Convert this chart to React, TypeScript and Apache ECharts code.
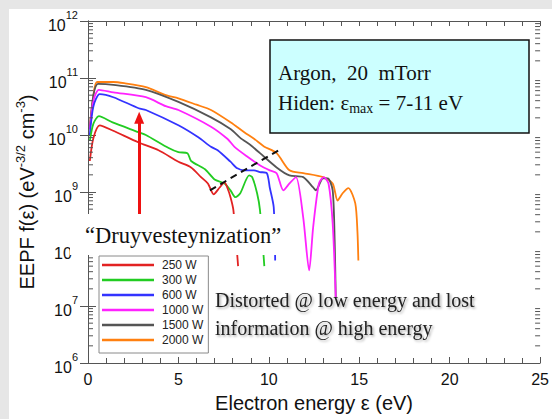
import React, { useEffect, useRef } from 'react';
import * as echarts from 'echarts';

// ---------- data (electron energy eV, EEPF value) ----------
const SERIES_NAMES = ['250 W', '300 W', '600 W', '1000 W', '1500 W', '2000 W'];
const SERIES_COLORS = ['#e22222', '#22cc22', '#3333ff', '#ff22ff', '#555555', '#ff8010'];

const P250: [number, number][] = [
  [0.1, 3.5e9], [0.3, 8.9e9], [0.65, 1.48e10], [1.36, 1.2e10], [2.8, 7.4e9], [3.9, 5.4e9],
  [5.0, 3.4e9], [5.7, 2.7e9], [6.25, 1.82e9], [6.63, 1.41e9], [6.95, 9.1e8], [7.28, 1.2e9],
  [7.55, 1.48e9], [7.7, 1.2e9], [7.88, 8.1e8], [8.04, 4.8e8], [8.3, 5.0e7],
];
const P300: [number, number][] = [
  [0.1, 7.9e9], [0.3, 1.58e10], [0.6, 2.14e10], [1.36, 1.66e10], [2.8, 1.12e10], [3.2, 1.0e10],
  [4.46, 5.9e9], [5.0, 5.0e9], [5.5, 4.8e9], [5.7, 3.5e9], [6.47, 2.5e9], [7.0, 1.66e9],
  [7.55, 1.41e9], [7.88, 1.07e9], [8.15, 8.1e8], [8.42, 9.5e8], [8.91, 1.95e9], [9.08, 1.82e9],
  [9.35, 9.5e8], [9.51, 4.8e8], [9.75, 5.0e7],
];
const P600: [number, number][] = [
  [0.1, 1.0e10], [0.3, 3.2e10], [0.65, 5.2e10], [1.4, 4.6e10], [2.8, 2.95e10], [3.2, 2.75e10],
  [5.0, 1.48e10], [6.1, 9.1e9], [6.8, 6.2e9], [7.17, 5.4e9], [7.88, 3.4e9], [8.26, 2.6e9],
  [8.64, 2.4e9], [9.18, 2.4e9], [9.51, 2.24e9], [9.89, 2.14e9], [10.05, 1.2e9], [10.27, 5.4e8],
  [10.35, 6.3e7],
];
const P1000: [number, number][] = [
  [0.1, 1.26e10], [0.3, 4.0e10], [0.6, 6.2e10], [1.4, 5.6e10], [3.2, 4.6e10], [4.3, 3.2e10],
  [5.0, 2.75e10], [6.8, 1.4e10], [7.72, 8.5e9], [8.1, 6.2e9], [8.8, 4.2e9], [9.5, 2.95e9],
  [10.05, 2.4e9], [10.43, 2.14e9], [10.8, 1.07e9], [11.14, 1.41e9], [11.5, 1.82e9], [11.9, 3.6e8],
  [12.23, 4.2e7], [12.45, 2.4e8], [12.77, 1.41e9], [13.04, 1.82e9], [13.3, 1.41e9], [13.53, 2.8e8],
  [13.7, 1.41e7],
];
const P1500: [number, number][] = [
  [0.1, 1.26e10], [0.3, 5.0e10], [0.55, 7.9e10], [1.4, 7.6e10], [3.2, 6.2e10], [5.0, 3.8e10],
  [6.8, 2.04e10], [7.9, 1.26e10], [8.42, 8.9e9], [9.0, 6.6e9], [9.51, 4.8e9], [10.43, 2.7e9],
  [11.14, 1.95e9], [11.9, 1.82e9], [12.45, 1.2e9], [12.6, 1.07e9], [13.0, 1.74e9], [13.26, 1.74e9],
  [13.53, 1.07e9], [13.64, 1.41e8], [13.7, 1.41e7],
];
const P2000: [number, number][] = [
  [0.1, 1.4e10], [0.3, 5.0e10], [0.5, 8.5e10], [1.4, 8.5e10], [2.0, 8.1e10], [3.2, 6.9e10],
  [4.3, 5.0e10], [5.0, 4.4e10], [6.0, 3.4e10], [6.8, 2.75e10], [7.9, 1.66e10], [8.64, 1.12e10],
  [9.2, 8.5e9], [9.73, 6.3e9], [10.43, 4.8e9], [11.14, 2.4e9], [11.9, 2.14e9], [13.0, 1.82e9],
  [13.53, 1.41e9], [13.8, 7.1e8], [14.08, 9.5e8], [14.4, 1.17e9], [14.78, 6.3e8], [14.9, 2.0e8],
  [14.95, 6.3e7],
];
const SERIES_DATA = [P250, P300, P600, P1000, P1500, P2000];

// dashed "Druyvesteynization" guide line and arrow
const DASHED_LINE: [number, number][] = [[6.74, 1.07e9], [10.54, 5.4e9]];
const ARROW_FROM: [number, number] = [2.83, 1.0e8];
const ARROW_TO: [number, number] = [2.83, 2.0e10];

// axes
const X_MIN = 0;
const X_MAX = 25;
const X_INTERVAL = 5;
const Y_MIN = 1e6;
const Y_MAX = 1e12;
const DECADES = [6, 7, 8, 9, 10, 11];
const MINOR_MULTS = [2, 3, 4, 5, 6, 7, 8, 9];

const SANS = 'Liberation Sans, Arial, sans-serif';
const SERIF = 'Liberation Serif, Times New Roman, serif';
const AXIS_COLOR = '#555555';

export default function App() {
  const ref = useRef<HTMLDivElement>(null);

  useEffect(() => {
    if (!ref.current) return;
    const chart = echarts.init(ref.current, null, { renderer: 'svg' });

    const minorTickData = DECADES.flatMap((d) => MINOR_MULTS.map((m) => [X_MIN, m * Math.pow(10, d)]));

    const curveSeries = SERIES_NAMES.map((name, i) => ({
      name,
      type: 'line',
      data: SERIES_DATA[i],
      showSymbol: false,
      symbol: 'none',
      smooth: 0.25,
      lineStyle: { color: SERIES_COLORS[i], width: 1.8 },
      itemStyle: { color: SERIES_COLORS[i] },
      z: 3 + (SERIES_NAMES.length - i),
    }));

    const yLabelFormatter = (v: number) => {
      const e = Math.round(Math.log10(v));
      return '{b|10}{s|' + e + '}';
    };

    const shadowText = (text: string, y: number) => ({
      type: 'text',
      x: 215,
      y,
      z: 100,
      style: {
        text,
        fontFamily: SERIF,
        fontSize: 20,
        fill: '#222',
        verticalAlign: 'middle',
        textShadowColor: 'rgba(0,0,0,0.35)',
        textShadowBlur: 2,
        textShadowOffsetX: 1.5,
        textShadowOffsetY: 1.5,
      },
    });

    const option: any = {
      animation: false,
      backgroundColor: '#e6e6e6',
      grid: { left: 88, right: 5, top: 21, bottom: 56, containLabel: false },
      legend: {
        data: SERIES_NAMES,
        orient: 'vertical',
        left: 99,
        top: 256,
        itemWidth: 52,
        itemHeight: 2.5,
        itemGap: 1,
        icon: 'rect',
        padding: [2, 5, 6, 3],
        backgroundColor: '#ffffff',
        borderColor: '#8a8a8a',
        borderWidth: 1,
        textStyle: { fontFamily: SANS, fontSize: 12, color: '#222', lineHeight: 14, padding: [0, 0, 0, 3] },
        z: 50,
      },
      xAxis: [
        {
          type: 'value',
          min: X_MIN,
          max: X_MAX,
          interval: X_INTERVAL,
          position: 'bottom',
          name: 'Electron energy ε (eV)',
          nameLocation: 'middle',
          nameGap: 30,
          nameTextStyle: { fontFamily: SANS, fontSize: 20, color: '#111' },
          axisLine: { show: true, lineStyle: { color: AXIS_COLOR, width: 1 } },
          axisTick: { show: true, inside: true, length: 6, lineStyle: { color: AXIS_COLOR } },
          minorTick: { show: true, splitNumber: 5, length: 5, lineStyle: { color: AXIS_COLOR } },
          axisLabel: { fontFamily: SANS, fontSize: 16, color: '#111', margin: 8 },
          splitLine: { show: false },
        },
        {
          type: 'value',
          min: X_MIN,
          max: X_MAX,
          interval: X_INTERVAL,
          position: 'top',
          axisLine: { show: true, lineStyle: { color: AXIS_COLOR, width: 1 } },
          axisTick: { show: true, inside: true, length: 5, lineStyle: { color: AXIS_COLOR } },
          minorTick: { show: true, splitNumber: 5, length: 5, lineStyle: { color: AXIS_COLOR } },
          axisLabel: { show: false },
          splitLine: { show: false },
        },
      ],
      yAxis: [
        {
          type: 'log',
          logBase: 10,
          min: Y_MIN,
          max: Y_MAX,
          position: 'left',
          name: '{n|EEPF f(ε) (eV}{s|-3/2}{n| cm}{s|-3}{n|)}',
          nameLocation: 'middle',
          nameGap: 38,
          nameTextStyle: {
            rich: {
              n: { fontFamily: SANS, fontSize: 20, color: '#111' },
              s: { fontFamily: SANS, fontSize: 13, color: '#111', padding: [0, 0, 14, 0] },
            },
          },
          axisLine: { show: true, lineStyle: { color: AXIS_COLOR, width: 1 } },
          axisTick: { show: true, inside: true, length: 8, lineStyle: { color: AXIS_COLOR } },
          axisLabel: {
            margin: 10,
            formatter: yLabelFormatter,
            rich: {
              b: { fontFamily: SANS, fontSize: 16, color: '#111', lineHeight: 24, verticalAlign: 'bottom' },
              s: { fontFamily: SANS, fontSize: 11, color: '#111', lineHeight: 11, verticalAlign: 'top' },
            },
          },
          splitLine: { show: false },
        },
        {
          type: 'log',
          logBase: 10,
          min: Y_MIN,
          max: Y_MAX,
          position: 'right',
          axisLine: { show: true, lineStyle: { color: AXIS_COLOR, width: 1 } },
          axisTick: { show: true, inside: true, length: 8, lineStyle: { color: AXIS_COLOR } },
          axisLabel: { show: false },
          splitLine: { show: false },
        },
      ],
      series: [
        ...curveSeries,
        {
          name: 'guide',
          type: 'line',
          data: DASHED_LINE,
          showSymbol: false,
          symbol: 'none',
          lineStyle: { color: '#111', width: 2, type: [7, 5] },
          z: 20,
          markLine: {
            silent: true,
            symbol: ['none', 'triangle'],
            symbolSize: [10, 12],
            label: { show: false },
            lineStyle: { color: '#ee1111', width: 3, type: 'solid' },
            data: [[{ coord: ARROW_FROM }, { coord: ARROW_TO }]],
            z: 21,
          },
        },
        {
          name: 'minorTicks',
          type: 'custom',
          silent: true,
          clip: false,
          data: minorTickData,
          z: 30,
          renderItem: (_params: any, api: any) => {
            const v = api.value(1);
            const pl = api.coord([X_MIN, v]);
            const pr = api.coord([X_MAX, v]);
            return {
              type: 'group',
              children: [
                { type: 'line', shape: { x1: pl[0], y1: pl[1], x2: pl[0] + 5, y2: pl[1] }, style: { stroke: AXIS_COLOR, lineWidth: 1 } },
                { type: 'line', shape: { x1: pr[0] - 5, y1: pr[1], x2: pr[0], y2: pr[1] }, style: { stroke: AXIS_COLOR, lineWidth: 1 } },
              ],
            };
          },
        },
      ],
      graphic: [
        {
          type: 'rect',
          shape: { x: 9, y: 9, width: 543, height: 410 },
          style: { fill: '#ffffff' },
          z: -100,
          silent: true,
        },
        {
          type: 'rect',
          shape: { x: 270, y: 40, width: 259, height: 93 },
          style: { fill: '#ccffff', stroke: '#111', lineWidth: 1.5 },
          z: 100,
        },
        {
          type: 'text',
          x: 278,
          y: 73,
          z: 101,
          style: {
            text: 'Argon,  20  mTorr',
            fontFamily: SERIF,
            fontSize: 21,
            fill: '#111',
            verticalAlign: 'middle',
          },
        },
        {
          type: 'text',
          x: 278,
          y: 103,
          z: 101,
          style: {
            text: '{n|Hiden: ε}{s|max}{n| = 7-11 eV}',
            verticalAlign: 'middle',
            rich: {
              n: { fontFamily: SERIF, fontSize: 21, fill: '#111' },
              s: { fontFamily: SERIF, fontSize: 14, fill: '#111', padding: [10, 0, 0, 0] },
            },
          },
        },
        {
          type: 'rect',
          shape: { x: 70, y: 214, width: 222, height: 41 },
          style: { fill: '#ffffff' },
          z: 90,
        },
        {
          type: 'text',
          x: 85,
          y: 235,
          z: 91,
          style: {
            text: '“Druyvesteynization”',
            fontFamily: SERIF,
            fontSize: 22.5,
            fill: '#111',
            verticalAlign: 'middle',
          },
        },
        shadowText('Distorted @ low energy and lost', 300),
        shadowText('information @ high energy', 328),
      ],
    };

    chart.setOption(option);
    return () => chart.dispose();
  }, []);

  return (
    <div
      ref={ref}
      style={{ position: 'absolute', left: 0, top: 0, width: 552, height: 419 }}
    />
  );
}
